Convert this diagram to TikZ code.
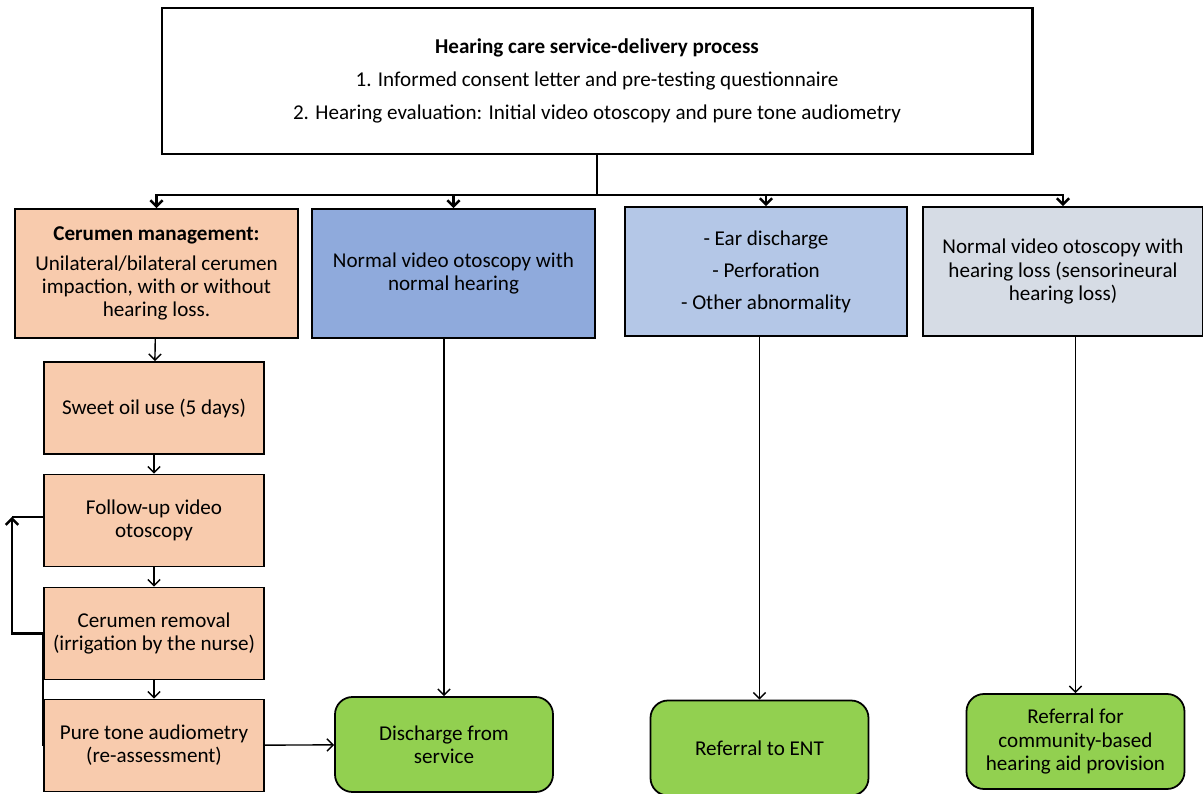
\documentclass[tikz,border=0pt]{standalone}
\usepackage{fontspec}
\setmainfont{Carlito}
\usetikzlibrary{positioning, arrows.meta}
\definecolor{mypeach}{RGB}{248,203,173}
\definecolor{mydarkblue}{RGB}{143,170,220}
\definecolor{mylightblue}{RGB}{180,199,231}
\definecolor{mygreyblue}{RGB}{214,220,229}
\definecolor{mygreen}{RGB}{146,208,80}
\newcommand{\widthfirst}{5.64cm}
\newcommand{\heightfirst}{2.58cm}
\newcommand{\widthstep}{4.4cm}
\newcommand{\heightstep}{1.84cm}
\newcommand{\widthend}{4.36cm}
\newcommand{\heightend}{1.9cm}
\tikzset{
    >={Straight Barb[length=3.5pt, width=7pt]},
    common/.style={draw, rectangle, line width=1pt, align=center, font=\fontsize{12}{13.2}\selectfont},
    first/.style={common, minimum width=\widthfirst, minimum height=\heightfirst},
    stepbox/.style={common, fill=mypeach, minimum width=\widthstep, minimum height=\heightstep},
    outcome/.style={common, fill=mygreen, rounded corners=0.35cm, minimum width=\widthend, minimum height=\heightend},
    link/.style={->, line width=0.8pt},
    bus/.style={line width=1.4pt}
}

\begin{document}
\begin{tikzpicture}
    \useasboundingbox (0,0) rectangle (24.06,-15.88);

    % process header
    \node[common, line width=1.7pt, minimum width=17.4cm, minimum height=2.92cm] (process) at (11.94,-1.62)
        {\textbf{Hearing care service-delivery process}\\[5.5pt]
         1. Informed consent letter and pre-testing questionnaire\\[5.5pt]
         2. Hearing evaluation: Initial video otoscopy and pure tone audiometry};

    % first findings
    \node[first, fill=mypeach, minimum width=5.66cm] (cerumen) at (3.13,-5.47)
        {\textbf{Cerumen management:}\\[4pt]
         Unilateral/bilateral cerumen\\impaction, with or without\\hearing loss.};
    \node[first, fill=mydarkblue, minimum width=5.66cm] (normal) at (9.07,-5.47)
        {Normal video otoscopy with\\normal hearing};
    \node[first, fill=mylightblue] (ear) at (15.32,-5.43)
        {- Ear discharge\\[5pt] - Perforation\\[5pt] - Other abnormality};
    \node[first, fill=mygreyblue, minimum width=5.6cm] (sensori) at (21.26,-5.43)
        {Normal video otoscopy with\\hearing loss (sensorineural\\hearing loss)};

    % cerumen steps
    \node[stepbox] (oil) at (3.08,-8.16) {Sweet oil use (5 days)};
    \node[stepbox] (followup) at (3.08,-10.41) {Follow-up video\\otoscopy};
    \node[stepbox] (removal) at (3.08,-12.67) {Cerumen removal\\(irrigation by the nurse)};
    \node[stepbox] (reassess) at (3.08,-14.91) {Pure tone audiometry\\(re-assessment)};

    % outcomes
    \node[outcome] (discharge) at (8.88,-14.89) {Discharge from\\service};
    \node[outcome] (ent) at (15.19,-14.96) {Referral to ENT};
    \node[outcome] (aid) at (21.51,-14.83) {Referral for\\community-based\\hearing aid provision};

    % connectors
    \coordinate (split) at (11.94,-3.9);
    \draw[bus] (process.south) -- (split);
    \foreach \b in {cerumen, normal, ear, sensori}
        \draw[link, bus] (split) -| (\b.north);

    \draw[link] (cerumen) -- (oil);
    \draw[link] (oil) -- (followup);
    \draw[link] (followup) -- (removal);
    \draw[link] (removal) -- (reassess);
    \draw[link] (reassess) -- (discharge);

    \coordinate (loop-top) at (0.24,-10.34);
    \draw[link, bus] (reassess.west) -- (removal.west) -| (loop-top);
    \draw[line width=0.8pt] (loop-top) -- (followup.west |- loop-top);

    \draw[link] (discharge.north |- normal.south) -- (discharge.north);
    \draw[link] (ent.north |- ear.south) -- (ent.north);
    \draw[link] (aid.north |- sensori.south) -- (aid.north);
\end{tikzpicture}
\end{document}
